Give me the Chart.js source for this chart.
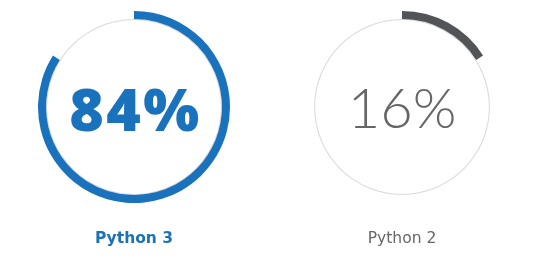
<!DOCTYPE html>
<html>
<head>
<meta charset="utf-8">
<script src="https://cdn.jsdelivr.net/npm/chart.js@4"></script>
<style>
  html, body { margin: 0; padding: 0; background: #fff; }
  body { width: 545px; height: 261px; position: relative; overflow: hidden; }
  .ring { position: absolute; top: 11px; width: 192px; height: 192px; }
  .ring canvas { position: absolute; left: 0; top: 0; }
  .pct { position: absolute; left: 0; top: 0; width: 192px; height: 192px;
         display: flex; align-items: center; justify-content: center;
         line-height: 1; box-sizing: border-box; }
  .label { position: absolute; top: 228px; width: 200px; text-align: center;
           font-size: 15.5px; line-height: 20px; font-family: "DejaVu Sans", sans-serif; }
</style>
</head>
<body>
<div id="rings"></div>
<script>
const labels = ['Python 3', 'Python 2'];
const shares = [84, 16];
const arcColors = ['#1a72bd', '#535458'];
const textColors = ['#1a72bd', '#666666'];
const centers = [134, 402];

const holder = document.getElementById('rings');

labels.forEach((name, i) => {
  const box = document.createElement('div');
  box.className = 'ring';
  box.style.left = (centers[i] - 96) + 'px';
  const canvas = document.createElement('canvas');
  canvas.width = 192;
  canvas.height = 192;
  box.appendChild(canvas);

  const pct = document.createElement('div');
  pct.className = 'pct';
  pct.textContent = shares[i] + '%';
  pct.style.color = textColors[i];
  if (i === 0) {
    // heavy geometric look for the leading share
    pct.style.fontFamily = '"Open Sans", sans-serif';
    pct.style.fontWeight = '800';
    pct.style.fontSize = '59px';
    pct.style.letterSpacing = '2.5px';
    pct.style.paddingLeft = '3px';
    pct.style.paddingTop = '3px';
  } else {
    pct.style.fontFamily = 'Lato, sans-serif';
    pct.style.fontWeight = '300';
    pct.style.fontSize = '56px';
  }
  box.appendChild(pct);
  holder.appendChild(box);

  const label = document.createElement('div');
  label.className = 'label';
  label.style.left = (centers[i] - 100) + 'px';
  label.textContent = name;
  label.style.color = textColors[i];
  label.style.fontWeight = i === 0 ? '700' : '400';
  holder.appendChild(label);

  new Chart(canvas, {
    type: 'doughnut',
    data: {
      labels: [name, 'Other'],
      datasets: [
        {
          data: [shares[i], 100 - shares[i]],
          backgroundColor: [arcColors[i], 'rgba(0,0,0,0)'],
          borderWidth: 0,
          weight: 8,
        },
        {
          data: [100],
          backgroundColor: ['#d9d9d9'],
          borderWidth: 0,
          weight: 1,
        },
      ],
    },
    options: {
      responsive: false,
      animation: false,
      cutout: '90.5%',
      layout: { padding: 0 },
      plugins: {
        legend: { display: false },
        tooltip: { enabled: false },
      },
    },
  });
});
</script>
</body>
</html>
